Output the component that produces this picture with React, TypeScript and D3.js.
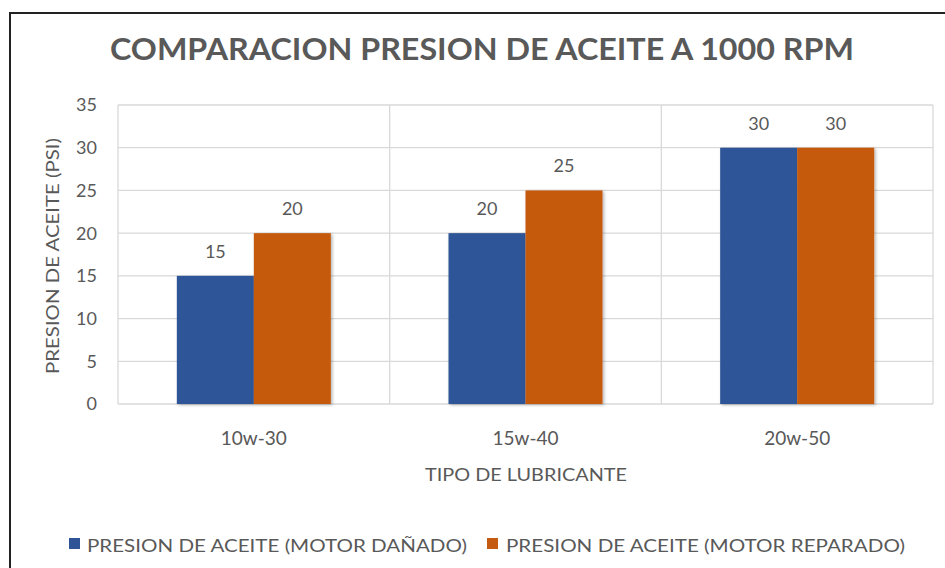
import React from "react";
import * as d3 from "d3";

const categories = ["10w-30", "15w-40", "20w-50"];
const seriesNames = [
  "PRESION DE ACEITE (MOTOR DAÑADO)",
  "PRESION DE ACEITE (MOTOR REPARADO)",
];
const danado = [15, 20, 30];
const reparado = [20, 25, 30];
const yTicks = [0, 5, 10, 15, 20, 25, 30, 35];
const colors = ["#2F5597", "#C55A11"];

const W = 945;
const H = 568;
const FONT = "Lato, 'Open Sans', sans-serif";
const TXT = "#595959";

export default function App() {
  const x = d3.scaleBand<string>().domain(categories).range([118, 933]).padding(0);
  const xSub = d3
    .scaleBand<string>()
    .domain(seriesNames)
    .range([0, x.bandwidth()])
    .paddingInner(0)
    .paddingOuter(0.764);
  const y = d3.scaleLinear().domain([0, 35]).range([404, 105]);
  const values = [danado, reparado];
  const boundaries = [...categories.map((c) => x(c) as number), 933];

  return (
    <svg
      width={W}
      height={H}
      style={{ position: "absolute", left: 0, top: 0, display: "block", background: "#fff" }}
    >
      <defs>
        <filter id="sh" x="-20%" y="-20%" width="140%" height="140%">
          <feDropShadow dx="1.5" dy="1" stdDeviation="1.5" floodColor="#000" floodOpacity="0.3" />
        </filter>
      </defs>
      <rect x={0} y={0} width={W} height={H} fill="#fff" />
      <rect x={10} y={13} width={W + 20} height={H + 20} fill="#fff" stroke="#222" strokeWidth={2} />

      <text
        x={482}
        y={60}
        textAnchor="middle"
        fontFamily={FONT}
        fontWeight="bold"
        fontSize={30}
        fill={TXT}
        textLength={744}
        lengthAdjust="spacingAndGlyphs"
      >
        COMPARACION PRESION DE ACEITE A 1000 RPM
      </text>

      {yTicks.map((t) => (
        <line key={"g" + t} x1={118} x2={933} y1={y(t)} y2={y(t)} stroke="#D9D9D9" strokeWidth={1.3} />
      ))}
      {boundaries.map((b, i) => (
        <line key={"v" + i} x1={b} x2={b} y1={y(35)} y2={y(0)} stroke="#D9D9D9" strokeWidth={1.3} />
      ))}

      {yTicks.map((t) => (
        <text
          key={"t" + t}
          x={97}
          y={y(t)}
          dy="0.36em"
          textAnchor="end"
          fontFamily={FONT}
          fontSize={18}
          fill={TXT}
        >
          {t}
        </text>
      ))}

      {categories.map((c, ci) =>
        seriesNames.map((s, si) => {
          const v = values[si][ci];
          const bx = (x(c) as number) + (xSub(s) as number);
          return (
            <rect
              key={c + s}
              x={bx}
              y={y(v)}
              width={xSub.bandwidth()}
              height={y(0) - y(v)}
              fill={colors[si]}
              filter="url(#sh)"
            />
          );
        })
      )}
      {categories.map((c, ci) =>
        seriesNames.map((s, si) => {
          const v = values[si][ci];
          const bx = (x(c) as number) + (xSub(s) as number) + xSub.bandwidth() / 2;
          return (
            <text
              key={"l" + c + s}
              x={bx}
              y={y(v) - 18}
              textAnchor="middle"
              fontFamily={FONT}
              fontSize={18}
              fill={TXT}
            >
              {v}
            </text>
          );
        })
      )}

      {categories.map((c) => (
        <text
          key={"c" + c}
          x={(x(c) as number) + x.bandwidth() / 2}
          y={445}
          textAnchor="middle"
          fontFamily={FONT}
          fontSize={19}
          fill={TXT}
        >
          {c}
        </text>
      ))}

      <text
        x={526}
        y={481}
        textAnchor="middle"
        fontFamily={FONT}
        fontSize={18}
        fill={TXT}
        textLength={202}
        lengthAdjust="spacingAndGlyphs"
      >
        TIPO DE LUBRICANTE
      </text>

      <text
        transform="translate(59,256) rotate(-90)"
        textAnchor="middle"
        fontFamily={FONT}
        fontSize={18}
        fill={TXT}
        textLength={236}
        lengthAdjust="spacingAndGlyphs"
      >
        PRESION DE ACEITE (PSI)
      </text>

      <rect x={69} y={538} width={11} height={11} fill={colors[0]} />
      <text
        x={87}
        y={552}
        fontFamily={FONT}
        fontSize={18}
        fill={TXT}
        textLength={380}
        lengthAdjust="spacingAndGlyphs"
      >
        {seriesNames[0]}
      </text>
      <rect x={487} y={538} width={11} height={11} fill={colors[1]} />
      <text
        x={506}
        y={552}
        fontFamily={FONT}
        fontSize={18}
        fill={TXT}
        textLength={399}
        lengthAdjust="spacingAndGlyphs"
      >
        {seriesNames[1]}
      </text>
    </svg>
  );
}
